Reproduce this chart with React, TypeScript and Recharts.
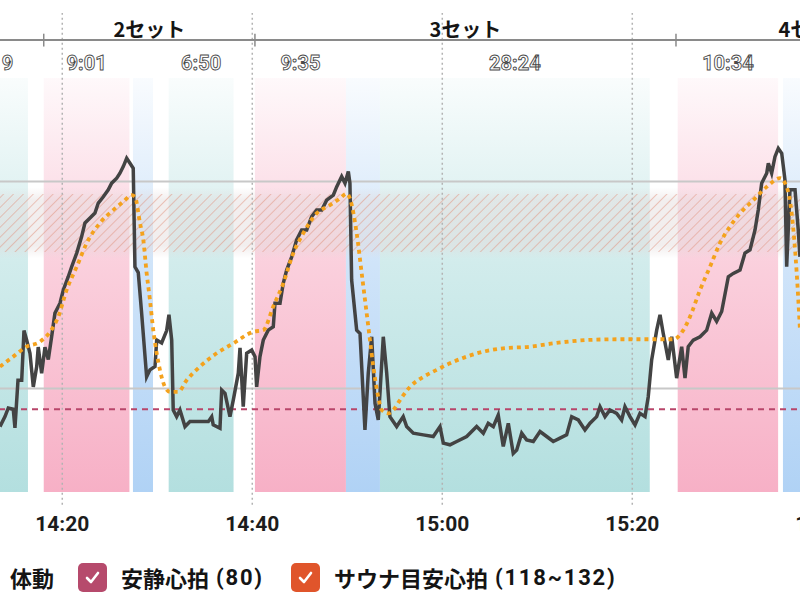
import { LineChart, Line, XAxis, YAxis, ReferenceArea, ReferenceLine, Legend } from 'recharts';

// minutes after 14:00, bpm
const heartRate: [number, number][] = [
  [13.44, 75.8], [13.97, 78.2], [14.32, 80.3], [14.84, 80], [15.02, 75.5], [15.34, 87], [15.73, 87],
  [15.97, 99], [16.25, 96.7], [16.6, 93.5], [16.95, 85.4], [17.31, 90.3], [17.47, 95], [17.83, 88.7],
  [18.18, 95], [18.53, 92], [18.88, 97.5], [19.23, 103.2], [19.76, 105.6], [20.11, 108.8], [20.63, 112],
  [20.99, 114.4], [21.52, 117.7], [22.04, 121.7], [22.39, 125], [22.92, 126.2], [23.44, 127.4],
  [23.79, 129.8], [24.32, 131.3], [24.84, 133], [25.2, 134.6], [25.73, 135.8], [26.07, 137],
  [26.42, 138.6], [26.78, 140.6], [27.13, 139.4], [27.47, 138.2], [27.65, 114.4], [28, 113],
  [28.36, 103], [28.88, 87.8], [29.23, 89.5], [29.76, 90.3], [29.94, 96.7], [30.46, 96], [30.99, 99],
  [31.23, 102.8], [31.52, 96.7], [31.68, 79.8], [32.04, 78.2], [32.39, 79.8], [32.92, 75.8], [33.44, 77],
  [34.49, 77], [35.37, 77], [35.73, 78.2], [35.89, 76.2], [36.6, 75.4], [36.78, 84.6], [37.13, 83.8],
  [37.65, 78.2], [38, 82.2], [38.53, 88.7], [38.71, 94.8], [39.05, 80.6], [39.41, 93.5], [39.94, 94.3],
  [40.29, 92.7], [40.46, 85.4], [40.81, 92.7], [41.16, 96.7], [41.68, 99.1], [42.21, 99.9], [42.39, 105.6],
  [42.92, 105.6], [43.26, 110.4], [43.62, 113.6], [44.15, 116.8], [44.67, 120.9], [45.2, 123.3],
  [45.73, 123.3], [46.25, 126.5], [46.78, 128.1], [47.31, 128.1], [47.83, 130.5], [48.53, 131.7],
  [48.88, 133.7], [49.41, 136.2], [49.76, 134.6], [50.11, 137.4], [50.28, 134.6], [50.46, 111.2],
  [50.99, 99.1], [51.34, 98.3], [51.86, 75], [52.21, 88.7], [52.57, 97.5], [52.92, 81.4], [53.26, 77.4],
  [53.44, 83.8], [53.79, 97.5], [54.15, 88.7], [54.49, 78.2], [55.2, 75.8], [55.89, 78.2], [56.25, 75.8],
  [56.95, 74.2], [58, 73.8], [59.05, 73.4], [59.76, 75.8], [60.11, 71.8], [60.81, 71.4], [61.52, 72.2],
  [62.57, 73.4], [63.62, 75.8], [64.32, 74.2], [64.84, 76.6], [65.37, 75.8], [65.89, 78.6], [66.42, 71],
  [66.95, 76.6], [67.47, 69.3], [67.83, 70.1], [68.36, 74.2], [68.88, 72.6], [69.58, 72.2], [70.29, 74.6],
  [70.99, 73.4], [71.68, 72.2], [72.39, 73], [73.09, 73.8], [73.62, 78.2], [74.32, 77.4], [75.02, 75],
  [75.55, 76.6], [76.25, 78.2], [76.6, 80.6], [77.13, 78.2], [77.65, 79.8], [78.36, 79], [78.88, 77.4],
  [79.23, 80.6], [79.76, 78.2], [80.29, 76.2], [80.81, 79], [81.34, 78.2], [81.68, 83], [82.04, 91.9],
  [82.57, 99.1], [82.92, 102.8], [83.26, 98.3], [83.79, 91.9], [84.15, 97.5], [84.67, 87.5], [85.2, 95.1],
  [85.55, 87.5], [85.89, 95.1], [86.42, 96.7], [87.13, 97.5], [87.83, 99.1], [88.36, 103.2], [88.88, 101.2],
  [89.41, 103.6], [90.11, 112], [90.63, 112.8], [91.34, 113.6], [91.86, 117.7], [92.39, 118.5],
  [92.92, 123.3], [93.26, 128.1], [93.62, 134.6], [94.15, 137], [94.32, 139.4], [94.67, 137], [95.02, 141],
  [95.37, 143], [95.73, 141.8], [96.07, 135.4], [96.25, 114.4], [96.6, 133], [97.13, 133], [97.47, 123.3],
  [97.65, 116.8],
];

const saunaPace: [number, number][] = [
  [13.44, 90.3], [14.84, 92.7], [16.25, 95.1], [17.65, 96.3], [18.71, 98.7], [19.58, 102.3], [20.46, 108.8],
  [21.52, 114.4], [22.57, 120.1], [23.97, 125], [25.37, 128.1], [26.42, 130.1], [27.31, 131.7],
  [27.65, 131.3], [28.18, 125], [28.53, 120.9], [28.88, 112.9], [29.23, 106.4], [29.58, 99.1],
  [29.94, 93.5], [30.28, 89.5], [30.81, 85.4], [31.34, 84.2], [32.21, 84.2], [33.09, 87], [34.49, 90.3],
  [36.25, 93.5], [38, 95.9], [40.11, 98.7], [41.16, 99.1], [42.21, 104.8], [43.26, 110.4], [44.32, 117.7],
  [45.37, 122.5], [46.78, 127.3], [48.18, 129.3], [49.23, 130.9], [49.94, 132.1], [50.28, 130.9],
  [50.99, 122.5], [51.52, 112.8], [52.04, 103.2], [52.39, 96.7], [52.74, 90.3], [53.26, 83], [53.62, 79.8],
  [54.32, 79], [54.84, 79.8], [55.55, 82.2], [56.6, 85.4], [58, 87.8], [59.41, 89.5], [60.81, 91.1],
  [62.57, 92.7], [64.32, 93.9], [66.42, 94.7], [69.23, 95.1], [71.68, 95.9], [75.2, 96.7], [78.71, 96.9],
  [82.21, 96.9], [84.32, 96.9], [85.37, 99.1], [86.07, 102.3], [87.13, 108.8], [88.18, 114.4],
  [89.23, 120.1], [90.28, 124.1], [91.34, 127.3], [92.74, 130.5], [94.15, 133.7], [95.55, 135.8],
  [96.25, 133.7], [96.78, 127.3], [97.31, 112.8], [97.65, 99.1],
];

const phaseStart = [9.07, 18.05, 27.44, 31.2, 40.28, 49.86, 53.44, 84.78, 95.86];
const phaseEnd = [16.39, 27.07, 29.55, 38.03, 49.86, 53.44, 81.84, 95.35, 99.5];
const phaseKind = ['rest', 'sauna', 'water', 'rest', 'sauna', 'water', 'rest', 'sauna', 'water'];
const phaseLabel = ['7:19', '9:01', '', '6:50', '9:35', '', '28:24', '10:34', ''];

const setStart = [18.05, 40.28, 84.6];
const setEnd = [40.28, 84.6, 113.75];
const setName = ['2セット', '3セット', '4セット'];

const timeTicks = [20, 40, 60, 80, 100];
const guideBpm = [85, 135];
const restingBpm = 80;
const saunaLow = 118;
const saunaHigh = 132;

const legendNames = ['体動', '安静心拍', 'サウナ目安心拍'];
const legendNotes = ['', '(80)', '(118~132)'];
const legendColors = ['#6b6b6b', '#b64a6c', '#e0552b'];

const hrData = heartRate.map(([m, bpm]) => ({ m, bpm }));
const paceData = saunaPace.map(([m, bpm]) => ({ m, bpm }));

// view window (the chart is wider than the page and cropped)
const X_MIN = 2.92;
const X_MAX = 108.18;
const RULE_Y = 169.2;
const GRID_TOP = 175.7;
const GRID_BOTTOM = 56.9;

const bandFill: Record<string, string> = {
  rest: 'url(#bandRest)',
  sauna: 'url(#bandSauna)',
  water: 'url(#bandWater)',
};

const clock = (m: number) => `${14 + Math.floor(m / 60)}:${String(m % 60).padStart(2, '0')}`;

function PhaseTag(props: any) {
  const { viewBox, text } = props;
  if (!viewBox || !text) return null;
  return (
    <text
      x={viewBox.x + viewBox.width / 2}
      y={viewBox.y - 8}
      textAnchor="middle"
      fontFamily="Roboto, sans-serif"
      fontSize={20}
      fontWeight={700}
      fill="#ffffff"
      stroke="#4a4a4a"
      strokeWidth={0.9}
    >
      {text}
    </text>
  );
}

function SetTag(props: any) {
  const { viewBox, text } = props;
  if (!viewBox) return null;
  return (
    <text
      x={viewBox.x + viewBox.width / 2}
      y={viewBox.y + viewBox.height - 3}
      textAnchor="middle"
      fontFamily='"Noto Sans CJK JP", sans-serif'
      fontSize={20}
      fontWeight={700}
      fill="#151515"
    >
      {text}
    </text>
  );
}

function CheckBox({ color }: { color: string }) {
  return (
    <svg width={29} height={29} style={{ display: 'block', flex: 'none' }}>
      <rect x={0} y={0} width={29} height={29} rx={5} fill={color} />
      <polyline points="9,15 13,19 20,10" fill="none" stroke="#fff" strokeWidth={2.6} strokeLinecap="round" strokeLinejoin="round" />
    </svg>
  );
}

function LegendRow() {
  return (
    <div style={{
      display: 'flex', alignItems: 'center', paddingLeft: 67, height: 30, whiteSpace: 'nowrap',
      fontFamily: '"Noto Sans CJK JP", sans-serif', fontSize: 22, fontWeight: 700, color: '#141414',
    }}>
      {legendNames.map((name, i) => (
        <div key={name} style={{ display: 'flex', alignItems: 'center', marginRight: i === 0 ? 24 : 27 }}>
          <CheckBox color={legendColors[i]} />
          <span style={{ marginLeft: 14 }}>{name}</span>
          {legendNotes[i] && (
            <span style={{ marginLeft: 7, letterSpacing: 1.8, fontFamily: 'Roboto, sans-serif', fontWeight: 700 }}>
              {legendNotes[i]}
            </span>
          )}
        </div>
      ))}
    </div>
  );
}

export default function App() {
  return (
    <div style={{ position: 'fixed', left: 0, top: 0, width: 800, height: 600, overflow: 'hidden', background: '#fff' }}>
      <div style={{ marginLeft: -100 }}>
        <LineChart width={1000} height={600} margin={{ top: 78, right: 0, bottom: 48, left: 0 }}>
          <defs>
            <linearGradient id="bandRest" x1="0" y1="0" x2="0" y2="1">
              <stop offset="0%" stopColor="#b3dfdf" stopOpacity={0.08} />
              <stop offset="45%" stopColor="#b3dfdf" stopOpacity={0.6} />
              <stop offset="100%" stopColor="#b3dfdf" stopOpacity={1} />
            </linearGradient>
            <linearGradient id="bandSauna" x1="0" y1="0" x2="0" y2="1">
              <stop offset="0%" stopColor="#f7b0c6" stopOpacity={0.08} />
              <stop offset="45%" stopColor="#f7b0c6" stopOpacity={0.6} />
              <stop offset="100%" stopColor="#f7b0c6" stopOpacity={1} />
            </linearGradient>
            <linearGradient id="bandWater" x1="0" y1="0" x2="0" y2="1">
              <stop offset="0%" stopColor="#b0d2f5" stopOpacity={0.08} />
              <stop offset="45%" stopColor="#b0d2f5" stopOpacity={0.6} />
              <stop offset="100%" stopColor="#b0d2f5" stopOpacity={1} />
            </linearGradient>
            <linearGradient id="hatchGlow" x1="0" y1="0" x2="0" y2="1">
              <stop offset="0%" stopColor="#e2dada" stopOpacity={0} />
              <stop offset="18%" stopColor="#e2dada" stopOpacity={0.45} />
              <stop offset="82%" stopColor="#e2dada" stopOpacity={0.45} />
              <stop offset="100%" stopColor="#e2dada" stopOpacity={0} />
            </linearGradient>
            <pattern id="hatch" width="7" height="7" patternUnits="userSpaceOnUse" patternTransform="rotate(45)">
              <line x1="0" y1="0" x2="0" y2="7" stroke="#e0907a" strokeWidth={1.3} strokeOpacity={0.75} />
            </pattern>
          </defs>

          <XAxis
            dataKey="m"
            type="number"
            domain={[X_MIN, X_MAX]}
            allowDataOverflow
            ticks={timeTicks}
            tickFormatter={clock}
            axisLine={false}
            tickLine={false}
            tickMargin={18}
            height={60}
            tick={{ fontSize: 21, fill: '#1c1c1c', fontFamily: 'Roboto, sans-serif', fontWeight: 700 }}
          />
          <YAxis type="number" domain={[60, 160]} allowDataOverflow hide />

          {phaseStart.map((s, i) => (
            <ReferenceArea
              key={`phase-${i}`}
              x1={s}
              x2={phaseEnd[i]}
              y1={60}
              y2={160}
              fill={bandFill[phaseKind[i]]}
              fillOpacity={1}
              stroke="none"
              ifOverflow="visible"
              label={<PhaseTag text={phaseLabel[i]} />}
            />
          ))}

          <ReferenceArea y1={saunaLow - 1.6} y2={saunaHigh + 1.6} fill="url(#hatchGlow)" fillOpacity={1} stroke="none" />
          <ReferenceArea y1={saunaLow} y2={saunaHigh} fill="url(#hatch)" fillOpacity={1} stroke="none" />

          {guideBpm.map((b) => (
            <ReferenceLine key={`guide-${b}`} y={b} stroke="#c8c8c8" strokeWidth={2} />
          ))}

          {timeTicks.map((t) => (
            <ReferenceLine
              key={`grid-${t}`}
              segment={[{ x: t, y: GRID_BOTTOM }, { x: t, y: GRID_TOP }]}
              stroke="#b3b3b3"
              strokeWidth={1.5}
              strokeDasharray="2 3"
              ifOverflow="visible"
            />
          ))}

          <ReferenceLine
            segment={[{ x: X_MIN, y: RULE_Y }, { x: X_MAX, y: RULE_Y }]}
            stroke="#8a8a8a"
            strokeWidth={2}
            ifOverflow="visible"
          />
          {setStart.map((s, i) => (
            <ReferenceLine
              key={`settick-${i}`}
              segment={[{ x: s, y: RULE_Y - 1.6 }, { x: s, y: RULE_Y + 1.5 }]}
              stroke="#8a8a8a"
              strokeWidth={1.5}
              ifOverflow="visible"
            />
          ))}
          {setStart.map((s, i) => (
            <ReferenceArea
              key={`set-${i}`}
              x1={s}
              x2={setEnd[i]}
              y1={RULE_Y}
              y2={RULE_Y + 3}
              fill="none"
              stroke="none"
              ifOverflow="visible"
              label={<SetTag text={setName[i]} />}
            />
          ))}

          <ReferenceLine y={restingBpm} stroke="#b8456a" strokeWidth={2} strokeDasharray="6 5" />

          <Line
            data={hrData}
            dataKey="bpm"
            type="linear"
            stroke="#434343"
            strokeWidth={3.5}
            dot={false}
            activeDot={false}
            legendType="none"
            isAnimationActive={false}
          />
          <Line
            data={paceData}
            dataKey="bpm"
            type="monotone"
            stroke="#f4a21d"
            strokeWidth={3.8}
            strokeDasharray="4 4"
            dot={false}
            activeDot={false}
            legendType="none"
            isAnimationActive={false}
          />

          <Legend
            verticalAlign="middle"
            layout="horizontal"
            align="center"
            wrapperStyle={{ top: 562, left: 0, width: 1000 }}
            content={() => <LegendRow />}
          />
        </LineChart>
      </div>
    </div>
  );
}
